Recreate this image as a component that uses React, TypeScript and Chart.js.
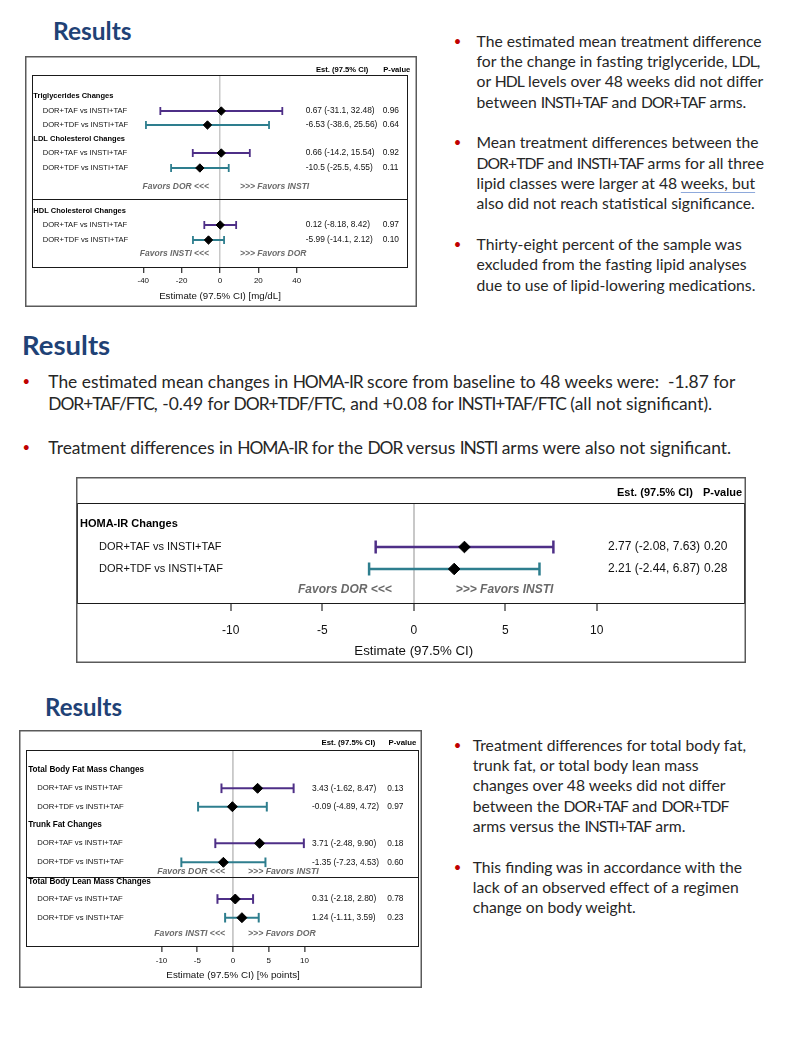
import React, { useEffect, useRef } from 'react';
import { Chart, registerables } from 'chart.js';

Chart.register(...registerables);

// ---------------- Data ----------------
const comparisons = ['DOR+TAF vs INSTI+TAF', 'DOR+TDF vs INSTI+TAF'];

const lipidGroups = ['Triglycerides Changes', 'LDL Cholesterol Changes', 'HDL Cholesterol Changes'];
const lipidEst = [0.67, -6.53, 0.66, -10.5, 0.12, -5.99];
const lipidLow = [-31.1, -38.6, -14.2, -25.5, -8.18, -14.1];
const lipidHigh = [32.48, 25.56, 15.54, 4.55, 8.42, 2.12];
const lipidCI = ['0.67 (-31.1, 32.48)', '-6.53 (-38.6, 25.56)', '0.66 (-14.2, 15.54)', '-10.5 (-25.5, 4.55)', '0.12 (-8.18, 8.42)', '-5.99 (-14.1, 2.12)'];
const lipidP = ['0.96', '0.64', '0.92', '0.11', '0.97', '0.10'];
const lipidTicks = [-40, -20, 0, 20, 40];
const lipidTickLabels = ['-40', '-20', '0', '20', '40'];
const lipidFavors = [['Favors DOR <<<', '>>> Favors INSTI'], ['Favors INSTI <<<', '>>> Favors DOR']];
const lipidAxisTitle = 'Estimate (97.5% CI) [mg/dL]';

const homaGroups = ['HOMA-IR Changes'];
const homaEst = [2.77, 2.21];
const homaLow = [-2.08, -2.44];
const homaHigh = [7.63, 6.87];
const homaCI = ['2.77 (-2.08, 7.63)', '2.21 (-2.44, 6.87)'];
const homaP = ['0.20', '0.28'];
const homaTicks = [-10, -5, 0, 5, 10];
const homaTickLabels = ['-10', '-5', '0', '5', '10'];
const homaFavors = [['Favors DOR <<<', '>>> Favors INSTI']];
const homaAxisTitle = 'Estimate (97.5% CI)';

const bodyGroups = ['Total Body Fat Mass Changes', 'Trunk Fat Changes', 'Total Body Lean Mass Changes'];
const bodyEst = [3.43, -0.09, 3.71, -1.35, 0.31, 1.24];
const bodyLow = [-1.62, -4.89, -2.48, -7.23, -2.18, -1.11];
const bodyHigh = [8.47, 4.72, 9.9, 4.53, 2.8, 3.59];
const bodyCI = ['3.43 (-1.62, 8.47)', '-0.09 (-4.89, 4.72)', '3.71 (-2.48, 9.90)', '-1.35 (-7.23, 4.53)', '0.31 (-2.18, 2.80)', '1.24 (-1.11, 3.59)'];
const bodyP = ['0.13', '0.97', '0.18', '0.60', '0.78', '0.23'];
const bodyTicks = [-10, -5, 0, 5, 10];
const bodyTickLabels = ['-10', '-5', '0', '5', '10'];
const bodyFavors = [['Favors DOR <<<', '>>> Favors INSTI'], ['Favors INSTI <<<', '>>> Favors DOR']];
const bodyAxisTitle = 'Estimate (97.5% CI) [% points]';

const estHeader = 'Est. (97.5% CI)';
const pHeader = 'P-value';
const seriesColors = ['#4E2F87', '#2E7E8E'];

const topRightText = [
  ['The estimated mean treatment difference', 'for the change in fasting triglyceride, LDL,', 'or HDL levels over 48 weeks did not differ', 'between INSTI+TAF and DOR+TAF arms.'],
  ['Mean treatment differences between the', 'DOR+TDF and INSTI+TAF arms for all three', 'lipid classes were larger at 48 |weeks, but', 'also did not reach statistical significance.'],
  ['Thirty-eight percent of the sample was', 'excluded from the fasting lipid analyses', 'due to use of lipid-lowering medications.'],
];
const middleText = [
  ['The estimated mean changes in HOMA-IR score from baseline to 48 weeks were:  -1.87 for', 'DOR+TAF/FTC, -0.49 for DOR+TDF/FTC, and +0.08 for INSTI+TAF/FTC (all not significant).'],
  ['Treatment differences in HOMA-IR for the DOR versus INSTI arms were also not significant.'],
];
const bottomRightText = [
  ['Treatment differences for total body fat,', 'trunk fat, or total body lean mass', 'changes over 48 weeks did not differ', 'between the DOR+TAF and DOR+TDF', 'arms versus the INSTI+TAF arm.'],
  ['This finding was in accordance with the', 'lack of an observed effect of a regimen', 'change on body weight.'],
];

// ---------------- Layout ----------------
const lipidLayout = {
  left: 25, top: 56, width: 392, height: 251,
  padL: 7, padT: 19, padR: 9, axisH: 39, xMin: -98, xMax: 98, frameH: 193,
  headY: [21, 64, 136], itemY: [36, 50, 78, 93, 150, 165], favY: [112, 179], sepY: [124],
  headerDy: -5, headX: 8.3, itemX: 17.7, ciX: 280.7, pX: 357.7, estHdrX: 291, pHdrX: 358.3,
  favL: -11, favR: 20,
  fItem: 7.6, fHead: 7.5, fCi: 8.4, fHdr: 7.6, fFav: 8.5, fTick: 8, fTitle: 9.7,
  tickLen: 5, tickPad: 3, titleY: 240, capR: 4, dotR: 4.2, barW: 1.8, zeroW: 1.5,
};
const homaLayout = {
  left: 76, top: 477, width: 670, height: 186,
  padL: 1, padT: 26, padR: 1, axisH: 59, xMin: -18.4, xMax: 18.1, frameH: 101,
  headY: [21], itemY: [44, 66], favY: [87], sepY: [],
  headerDy: -10, headX: 4, itemX: 23, ciX: 532, pX: 628, estHdrX: 541, pHdrX: 627,
  favL: -22, favR: 42,
  fItem: 11, fHead: 11, fCi: 12, fHdr: 11, fFav: 12, fTick: 12, fTitle: 13.3,
  tickLen: 7, tickPad: 12, titleY: 174, capR: 6.5, dotR: 5.8, barW: 2.5, zeroW: 2,
};
const bodyLayout = {
  left: 19, top: 730, width: 403, height: 258,
  padL: 7, padT: 20, padR: 3, axisH: 41, xMin: -28.95, xMax: 26, frameH: 197,
  headY: [20, 75, 132], itemY: [38.3, 56.7, 93.3, 112.3, 149, 167.7], favY: [121.7, 183.3], sepY: [126.7],
  headerDy: -6.7, headX: 9.2, itemX: 18.2, ciX: 293, pX: 368.2, estHdrX: 302.5, pHdrX: 369.5,
  favL: -8, favR: 15,
  fItem: 7.7, fHead: 8.2, fCi: 8.4, fHdr: 7.8, fFav: 8.7, fTick: 8, fTitle: 9.8,
  tickLen: 5, tickPad: 3.5, titleY: 245, capR: 4.8, dotR: 5, barW: 2, zeroW: 1.8,
};

const CH_FONT = '"Liberation Sans", Arial, sans-serif';

type Cfg = {
  groups: string[]; labels: string[]; est: number[]; low: number[]; high: number[];
  ci: string[]; p: string[]; ticks: number[]; tickLabels: string[]; favors: string[][];
  axisTitle: string; L: any;
};

function ForestChart({ cfg }: { cfg: Cfg }) {
  const ref = useRef<HTMLCanvasElement>(null);
  useEffect(() => {
    const L = cfg.L;
    const font = (size: number, style = '') => `${style} ${size}px ${CH_FONT}`.trim();
    const datasets: any[] = [
      {
        data: cfg.est.map((v, i) => ({ x: v, y: L.itemY[i] })),
        showLine: false,
        pointStyle: 'rectRot',
        pointRadius: L.dotR,
        pointHoverRadius: L.dotR,
        pointBackgroundColor: '#000',
        pointBorderColor: '#000',
        pointBorderWidth: 1,
      },
    ];
    cfg.est.forEach((_, i) => {
      const c = seriesColors[i % cfg.labels.length];
      datasets.push({
        data: [
          { x: cfg.low[i], y: L.itemY[i] },
          { x: cfg.high[i], y: L.itemY[i] },
        ],
        showLine: true,
        borderColor: c,
        borderWidth: L.barW,
        pointStyle: 'line',
        pointRotation: 90,
        pointRadius: L.capR,
        pointHoverRadius: L.capR,
        pointBorderColor: c,
        pointBackgroundColor: c,
        pointBorderWidth: L.barW,
      });
    });

    const text = (ctx: CanvasRenderingContext2D, s: string, x: number, y: number, f: string, color: string, align: CanvasTextAlign = 'left') => {
      ctx.font = f;
      ctx.fillStyle = color;
      ctx.textAlign = align;
      ctx.textBaseline = 'middle';
      ctx.fillText(s, x, y);
    };

    const decor = {
      id: 'forestDecor',
      beforeDatasetsDraw(chart: any) {
        const { ctx, chartArea: a } = chart;
        const ys = chart.scales.y;
        ctx.save();
        ctx.strokeStyle = '#1a1a1a';
        ctx.lineWidth = 1;
        ctx.strokeRect(Math.round(a.left) + 0.5, Math.round(a.top) + 0.5, Math.round(a.right - a.left) - 1, Math.round(a.bottom - a.top) - 1);
        L.sepY.forEach((v: number) => {
          const y = Math.round(ys.getPixelForValue(v)) + 0.5;
          ctx.beginPath();
          ctx.moveTo(a.left, y);
          ctx.lineTo(a.right, y);
          ctx.stroke();
        });
        ctx.restore();
      },
      afterDatasetsDraw(chart: any) {
        const { ctx, chartArea: a } = chart;
        const xs = chart.scales.x;
        const ys = chart.scales.y;
        const x0 = xs.getPixelForValue(0);
        ctx.save();
        cfg.groups.forEach((g, i) => text(ctx, g, L.headX, ys.getPixelForValue(L.headY[i]), font(L.fHead, 'bold'), '#000'));
        cfg.est.forEach((_, i) => {
          const y = ys.getPixelForValue(L.itemY[i]);
          text(ctx, cfg.labels[i % cfg.labels.length], L.itemX, y, font(L.fItem), '#111');
          text(ctx, cfg.ci[i], L.ciX, y, font(L.fCi), '#111');
          text(ctx, cfg.p[i], L.pX, y, font(L.fCi), '#111');
        });
        cfg.favors.forEach((pair, i) => {
          const y = ys.getPixelForValue(L.favY[i]);
          text(ctx, pair[0], x0 + L.favL, y, font(L.fFav, 'italic bold'), '#6a6a6a', 'right');
          text(ctx, pair[1], x0 + L.favR, y, font(L.fFav, 'italic bold'), '#6a6a6a', 'left');
        });
        text(ctx, estHeader, L.estHdrX, a.top + L.headerDy, font(L.fHdr, 'bold'), '#000');
        text(ctx, pHeader, L.pHdrX, a.top + L.headerDy, font(L.fHdr, 'bold'), '#000');
        text(ctx, cfg.axisTitle, x0, L.titleY, font(L.fTitle), '#111', 'center');
        ctx.strokeStyle = '#5a5a5a';
        ctx.lineWidth = 1.5;
        ctx.strokeRect(0.75, 0.75, chart.width - 1.5, chart.height - 1.5);
        ctx.restore();
      },
    };

    const chart = new Chart(ref.current as HTMLCanvasElement, {
      type: 'scatter',
      data: { datasets },
      options: {
        animation: false,
        responsive: false,
        maintainAspectRatio: false,
        devicePixelRatio: 1,
        events: [],
        layout: { autoPadding: false, padding: { left: L.padL, top: L.padT, right: L.padR, bottom: 0 } },
        plugins: { legend: { display: false }, tooltip: { enabled: false } },
        scales: {
          x: {
            type: 'linear',
            position: 'bottom',
            min: L.xMin,
            max: L.xMax,
            bounds: 'data',
            afterBuildTicks: (s: any) => {
              s.ticks = cfg.ticks.map((v) => ({ value: v }));
            },
            afterFit: (s: any) => {
              s.height = L.axisH;
              s.paddingLeft = 0;
              s.paddingRight = 0;
            },
            ticks: {
              autoSkip: false,
              maxRotation: 0,
              minRotation: 0,
              padding: L.tickPad,
              color: '#111',
              font: { family: CH_FONT, size: L.fTick },
              callback: (v: any) => {
                const k = cfg.ticks.indexOf(Number(v));
                return k >= 0 ? cfg.tickLabels[k] : '';
              },
            },
            grid: {
              drawOnChartArea: true,
              drawTicks: true,
              tickLength: L.tickLen,
              tickColor: '#000',
              tickWidth: 1,
              lineWidth: L.zeroW,
              color: (c: any) => (c.tick && c.tick.value === 0 ? '#c8c8c8' : 'rgba(0,0,0,0)'),
            },
            border: { display: false },
            title: { display: false },
          },
          y: { type: 'linear', min: 0, max: L.frameH, reverse: true, display: false },
        },
      } as any,
      plugins: [decor],
    });
    return () => chart.destroy();
  }, [cfg]);
  const L = cfg.L;
  return (
    <canvas
      ref={ref}
      width={L.width}
      height={L.height}
      style={{ position: 'absolute', left: L.left, top: L.top, width: L.width, height: L.height }}
    />
  );
}

const lipidCfg: Cfg = { groups: lipidGroups, labels: comparisons, est: lipidEst, low: lipidLow, high: lipidHigh, ci: lipidCI, p: lipidP, ticks: lipidTicks, tickLabels: lipidTickLabels, favors: lipidFavors, axisTitle: lipidAxisTitle, L: lipidLayout };
const homaCfg: Cfg = { groups: homaGroups, labels: comparisons, est: homaEst, low: homaLow, high: homaHigh, ci: homaCI, p: homaP, ticks: homaTicks, tickLabels: homaTickLabels, favors: homaFavors, axisTitle: homaAxisTitle, L: homaLayout };
const bodyCfg: Cfg = { groups: bodyGroups, labels: comparisons, est: bodyEst, low: bodyLow, high: bodyHigh, ci: bodyCI, p: bodyP, ticks: bodyTicks, tickLabels: bodyTickLabels, favors: bodyFavors, axisTitle: bodyAxisTitle, L: bodyLayout };

const TEXT_FONT = 'Lato, "Open Sans", sans-serif';
const TITLE_COLOR = '#1F4276';

function Title({ left, top, size }: { left: number; top: number; size: number }) {
  return (
    <div style={{ position: 'absolute', left, top, fontFamily: TEXT_FONT, fontWeight: 700, fontSize: size, lineHeight: 1, color: TITLE_COLOR, whiteSpace: 'nowrap' }}>
      Results
    </div>
  );
}

// Narrow the runs of capitals a little so the lines keep the original widths.
function capsRuns(s: string, keyBase: string) {
  const parts = s.split(/([A-Z][A-Z+\-\/]*[A-Z])/);
  return parts.map((p, i) =>
    i % 2 === 1 ? (
      <span key={`${keyBase}-${i}`} style={{ letterSpacing: '-0.06em' }}>
        {p}
      </span>
    ) : (
      <React.Fragment key={`${keyBase}-${i}`}>{p}</React.Fragment>
    )
  );
}

function renderLine(s: string, key: string) {
  if (s.includes('|')) {
    const [a, b] = s.split('|');
    return (
      <>
        {capsRuns(a, key + 'a')}
        <span style={{ textDecoration: 'underline', textDecorationColor: '#8EA9DB', textUnderlineOffset: 3 }}>{capsRuns(b, key + 'b')}</span>
      </>
    );
  }
  return capsRuns(s, key);
}

function Bullets({ left, bulletX, top, lh, size, paras }: { left: number; bulletX: number; top: number; lh: number; size: number; paras: string[][] }) {
  const rows: React.ReactNode[] = [];
  paras.forEach((p, pi) => {
    p.forEach((line, li) => {
      rows.push(
        <div key={`${pi}-${li}`} style={{ position: 'relative', height: lh, lineHeight: `${lh}px`, whiteSpace: 'pre' }}>
          {li === 0 && (
            <span style={{ position: 'absolute', left: bulletX - left - 3, top: 0, color: '#C00000', fontSize: 13 }}>•</span>
          )}
          {renderLine(line, `${pi}-${li}`)}
        </div>
      );
    });
    if (pi < paras.length - 1) rows.push(<div key={`gap-${pi}`} style={{ height: lh }} />);
  });
  return (
    <div style={{ position: 'absolute', left, top, fontFamily: TEXT_FONT, fontSize: size, color: '#262626' }}>
      {rows}
    </div>
  );
}

export default function App() {
  return (
    <div style={{ position: 'absolute', left: 0, top: 0, width: 785, height: 1044, background: '#fff', overflow: 'hidden' }}>
      <Title left={53} top={19} size={24.5} />
      <Title left={22} top={331} size={27.5} />
      <Title left={45} top={695} size={24} />
      <ForestChart cfg={lipidCfg} />
      <ForestChart cfg={homaCfg} />
      <ForestChart cfg={bodyCfg} />
      <Bullets left={476.5} bulletX={456.7} top={30.5} lh={20.35} size={15.7} paras={topRightText} />
      <Bullets left={48.3} bulletX={25.5} top={371.3} lh={21.8} size={17.4} paras={middleText} />
      <Bullets left={472.7} bulletX={456.7} top={734.8} lh={20.3} size={15.7} paras={bottomRightText} />
    </div>
  );
}
